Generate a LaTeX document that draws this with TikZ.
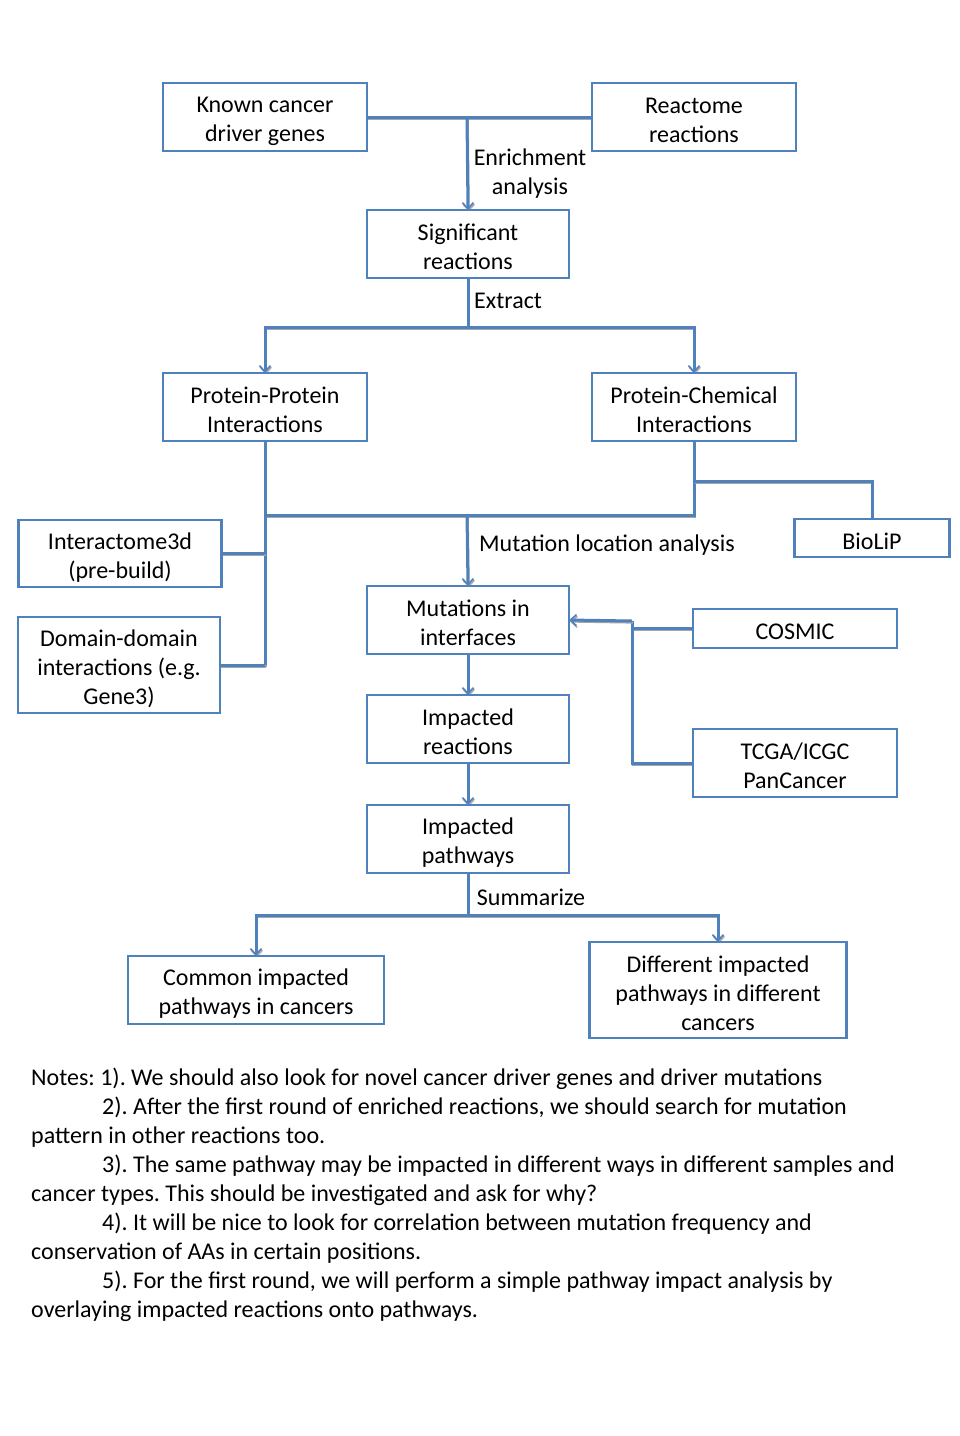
\documentclass[tikz,border=0pt]{standalone}
\usepackage{fontspec}
\setmainfont{Carlito}
\usetikzlibrary{arrows.meta}
\definecolor{obl}{RGB}{79,129,189}
\newcommand\sst{\rule[-2.3pt]{0pt}{26.7pt}}
\frenchspacing
\begin{document}
\begin{tikzpicture}[x=1pt,y=-1pt,
  every node/.style={font=\fontsize{24}{29}\selectfont\frenchspacing},
  box/.style={draw=obl, line width=2.6pt, align=center, inner sep=0pt, fill=white},
  conn/.style={draw=obl, line width=3pt,
    preaction={draw=black!35, line width=2pt, transform canvas={shift={(0.8pt,-1.6pt)}}}},
  arr/.style={conn, -{Straight Barb[length=6pt,width=11pt,line width=1.6pt]}},
  lbl/.style={inner sep=0pt}]
\useasboundingbox (0,0) rectangle (960,1436);
\fill[white] (0,0) rectangle (960,1436);

% coordinates
\coordinate (ej) at (467,118);
\coordinate (xj) at (468,327);
\coordinate (bj) at (467,515);
\coordinate (pj) at (694,481);
\coordinate (cj) at (632,621);
\coordinate (sj) at (468,915);

% box outlines (anchors for connectors)
\path node[minimum width=204, minimum height=68, inner sep=0pt] (kc) at (265,117) {}
  node[minimum width=204, minimum height=68, inner sep=0pt] (rr) at (694,117) {}
  node[minimum width=202, minimum height=68, inner sep=0pt] (sig) at (468,244) {}
  node[minimum width=204, minimum height=68, inner sep=0pt] (ppi) at (265,407) {}
  node[minimum width=204, minimum height=68, inner sep=0pt] (pci) at (694,407) {}
  node[minimum width=155, minimum height=38, inner sep=0pt] (bio) at (872,538) {}
  node[minimum width=203, minimum height=67, inner sep=0pt] (i3d) at (120,553.5) {}
  node[minimum width=202, minimum height=96, inner sep=0pt] (dd) at (119,665) {}
  node[minimum width=202, minimum height=68, inner sep=0pt] (mi) at (468,620) {}
  node[minimum width=204, minimum height=39, inner sep=0pt] (cos) at (795,628.5) {}
  node[minimum width=204, minimum height=68, inner sep=0pt] (tcga) at (795,763) {}
  node[minimum width=202, minimum height=68, inner sep=0pt] (ir) at (468,729) {}
  node[minimum width=202, minimum height=68, inner sep=0pt] (ip) at (468,839) {}
  node[minimum width=256, minimum height=68, inner sep=0pt] (com) at (256,990) {}
  node[minimum width=257, minimum height=96, inner sep=0pt] (dif) at (718,990) {};

% connectors
\draw[conn] (kc.east) -- (rr.west);
\draw[arr] (ej) -- (sig.north);
\draw[conn] (sig.south) -- (xj);
\draw[arr] (xj) -| (ppi.north);
\draw[arr] (xj) -| (pci.north);
\draw[conn] (ppi.south) |- (bj);
\draw[conn] (pci.south) |- (bj);
\draw[arr] (bj) -- (mi.north);
\draw[conn] (pj) -| (bio.north);
\draw[conn] (ppi.south) -- (ppi.south |- dd.east);
\draw[conn] (i3d.east) -- (i3d.east -| ppi.south);
\draw[conn] (dd.east) -- (dd.east -| ppi.south);
\draw[conn] (cos.west) -| (cj);
\draw[conn] (tcga.west) -| (cj);
\draw[arr] (cj) -- (mi.east);
\draw[arr] (mi.south) -- (ir.north);
\draw[arr] (ir.south) -- (ip.north);
\draw[conn] (ip.south) -- (sj);
\draw[arr] (sj) -| (com.north);
\draw[arr] (sj) -| (dif.north);

% visible boxes with text
\node[box, minimum width=204, minimum height=68] (kcb) at (kc) {\sst Known cancer\\\sst driver genes};
\node[box, minimum width=204, minimum height=68] (rrb) at (rr) {\sst Reactome\\\sst reactions};
\node[box, minimum width=202, minimum height=68] (sigb) at (sig) {\sst Significant\\\sst reactions};
\node[box, minimum width=204, minimum height=68] (ppib) at (ppi) {\sst Protein-Protein\\\sst Interactions};
\node[box, minimum width=204, minimum height=68] (pcib) at (pci) {\sst Protein-Chemical\\\sst Interactions};
\node[box, minimum width=155, minimum height=38] (biob) at (bio) {\sst BioLiP};
\node[box, minimum width=203, minimum height=67] (i3db) at (i3d) {\sst Interactome3d\\\sst (pre-build)};
\node[box, minimum width=202, minimum height=96] (ddb) at (dd) {\sst Domain-domain\\\sst interactions (e.g.\\\sst Gene3)};
\node[box, minimum width=202, minimum height=68] (mib) at (mi) {\sst Mutations in\\\sst interfaces};
\node[box, minimum width=204, minimum height=39] (cosb) at (cos) {\sst COSMIC};
\node[box, minimum width=204, minimum height=68] (tcgab) at (tcga) {\sst TCGA/ICGC\\\sst PanCancer};
\node[box, minimum width=202, minimum height=68] (irb) at (ir) {\sst Impacted\\\sst reactions};
\node[box, minimum width=202, minimum height=68] (ipb) at (ip) {\sst Impacted\\\sst pathways};
\node[box, minimum width=256, minimum height=68] (comb) at (com) {\sst Common impacted\\\sst pathways in cancers};
\node[box, minimum width=257, minimum height=96] (difb) at (dif) {\sst Different impacted\\\sst pathways in different\\\sst cancers};

% labels
\node[lbl, align=center] (enr) at (530,169.5) {\sst Enrichment\\\sst analysis};
\node[lbl, anchor=west] (ext) at (474,301) {Extract};
\node[lbl] (mla) at (607,545) {Mutation location analysis};
\node[lbl] (sum) at (531,897) {Summarize};

% notes
\node[lbl, anchor=base west, align=left] (notes) at (31,1317) {Notes: 1). We should also look for novel cancer driver genes and driver mutations\\
\hspace*{71pt}2). After the first round of enriched reactions, we should search for mutation\\
pattern in other reactions too.\\
\hspace*{71pt}3). The same pathway may be impacted in different ways in different samples and\\
cancer types. This should be investigated and ask for why?\\
\hspace*{71pt}4). It will be nice to look for correlation between mutation frequency and\\
conservation of AAs in certain positions.\\
\hspace*{71pt}5). For the first round, we will perform a simple pathway impact analysis by\\
overlaying impacted reactions onto pathways.};
\end{tikzpicture}
\end{document}
